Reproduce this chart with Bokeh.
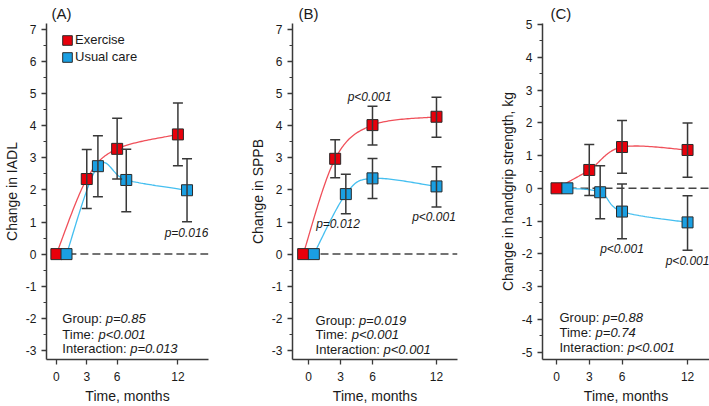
import numpy as np
from bokeh.plotting import figure
from bokeh.layouts import row
from bokeh.models import (ColumnDataSource, Whisker, TeeHead, Label, Legend, LegendItem,
                          FixedTicker, SingleIntervalTicker, Range1d, PrintfTickFormatter)
from bokeh.embed import file_html
from bokeh.resources import INLINE

# ---------------- data ----------------
months_ticks = [0, 3, 6, 12]
group_names = ["Exercise", "Usual care"]

# Panel A: Change in IADL
a_ex_t = [0, 3, 6, 12]
a_ex_y = [0, 2.34, 3.28, 3.73]
a_ex_lo = [0, 1.42, 2.34, 2.75]
a_ex_hi = [0, 3.26, 4.23, 4.71]
a_uc_t = [1, 4.1, 6.9, 12.9]
a_uc_y = [0, 2.74, 2.31, 1.99]
a_uc_lo = [0, 1.79, 1.32, 1.01]
a_uc_hi = [0, 3.69, 3.27, 2.97]

# Panel B: Change in SPPB
b_ex_t = [-0.5, 2.5, 6, 12]
b_ex_y = [0, 2.97, 4.02, 4.28]
b_ex_lo = [0, 2.38, 3.40, 3.64]
b_ex_hi = [0, 3.56, 4.61, 4.89]
b_uc_t = [0.5, 3.5, 6, 12]
b_uc_y = [0, 1.87, 2.36, 2.11]
b_uc_lo = [0, 1.26, 1.73, 1.47]
b_uc_hi = [0, 2.49, 2.98, 2.72]

# Panel C: Change in handgrip strength, kg
c_ex_t = [0, 3, 6, 12]
c_ex_y = [0, 0.56, 1.26, 1.17]
c_ex_lo = [0, -0.22, 0.46, 0.34]
c_ex_hi = [0, 1.34, 2.07, 1.99]
c_uc_t = [1, 4, 6, 12]
c_uc_y = [0, -0.12, -0.71, -1.04]
c_uc_lo = [0, -0.93, -1.54, -1.89]
c_uc_hi = [0, 0.69, 0.13, -0.23]

a_stats = [("Group: ", "p=0.85"), ("Time: ", "p<0.001"), ("Interaction: ", "p=0.013")]
b_stats = [("Group: ", "p=0.019"), ("Time: ", "p<0.001"), ("Interaction: ", "p<0.001")]
c_stats = [("Group: ", "p=0.88"), ("Time: ", "p=0.74"), ("Interaction: ", "p<0.001")]

a_notes = ["p=0.016"]
a_notes_x = [12.85]
a_notes_y = [0.67]
b_notes = ["p<0.001", "p=0.012", "p<0.001"]
b_notes_x = [5.72, 2.77, 11.77]
b_notes_y = [4.89, 0.94, 1.17]
c_notes = ["p<0.001", "p<0.001"]
c_notes_x = [6.0, 12.0]
c_notes_y = [-1.84, -2.21]

# ---------------- style ----------------
FONT = "Liberation Sans"
TXT = "#1a1a1a"
AX = "#3a3a3a"
RED_FILL = "#E8000B"
BLUE_FILL = "#1A9FE2"
RED_LINE = "#F0505A"
BLUE_LINE = "#45BFF0"
HEIGHT = 406

W = {' ': 278, ':': 278, 'G': 778, 'r': 333, 'o': 556, 'u': 556, 'p': 556, 'T': 611,
     'i': 222, 'm': 833, 'e': 556, 'I': 278, 'n': 556, 't': 278, 'a': 556, 'c': 500}


def text_width(s, size):
    return sum(W.get(ch, 556) for ch in s) * size / 1000.0


def catmull_rom(xs, ys, n=40):
    P = np.column_stack([xs, ys]).astype(float)
    segs = []
    t = np.linspace(0, 1, n)[:, None]
    h00 = 2 * t**3 - 3 * t**2 + 1
    h10 = t**3 - 2 * t**2 + t
    h01 = -2 * t**3 + 3 * t**2
    h11 = t**3 - t**2
    for i in range(len(P) - 1):
        p0 = P[i - 1] if i > 0 else P[i]
        p1, p2 = P[i], P[i + 1]
        p3 = P[i + 2] if i + 2 < len(P) else P[i + 1]
        m1 = (p2 - p0) / 2.0
        m2 = (p3 - p1) / 2.0
        segs.append(h00 * p1 + h10 * m1 + h01 * p2 + h11 * m2)
    c = np.vstack(segs)
    return c[:, 0], c[:, 1]


def panel(width, bl, br, xr, yr, ylabel, ex, uc, stats, stats_xy, notes, tag, tag_off,
          legend=False):
    p = figure(width=width, height=HEIGHT, x_range=Range1d(*xr), y_range=Range1d(*yr),
               output_backend="svg", toolbar_location=None,
               min_border_left=bl, min_border_right=br, min_border_top=23, min_border_bottom=46)
    p.outline_line_color = None
    p.grid.visible = False
    p.background_fill_color = "white"

    p.title.text = tag
    p.title.text_font = FONT
    p.title.text_font_size = "15px"
    p.title.text_font_style = "normal"
    p.title.text_color = TXT
    p.title.align = "left"
    p.title.vertical_align = "top"
    p.title.offset = tag_off
    p.title.standoff = 0

    # axes
    xa = p.xaxis[0]
    xa.ticker = FixedTicker(ticks=months_ticks)
    xa.axis_label = "Time, months"
    ya = p.yaxis[0]
    ya.ticker = SingleIntervalTicker(interval=1, num_minor_ticks=2)
    ya.formatter = PrintfTickFormatter(format="%d")
    ya.axis_label = ylabel
    for ax in (xa, ya):
        ax.axis_line_color = AX
        ax.axis_line_width = 1.5
        ax.major_tick_line_color = AX
        ax.major_tick_line_width = 1.3
        ax.major_tick_in = 0
        ax.major_tick_out = 5
        ax.major_label_text_font = FONT
        ax.major_label_text_font_size = "12px"
        ax.major_label_text_color = TXT
        ax.axis_label_text_font = FONT
        ax.axis_label_text_font_size = "14px"
        ax.axis_label_text_font_style = "normal"
        ax.axis_label_text_color = TXT
    xa.minor_tick_line_color = None
    xa.major_label_standoff = 7
    xa.axis_label_standoff = 4
    ya.minor_tick_line_color = AX
    ya.minor_tick_line_width = 1.2
    ya.minor_tick_in = 0
    ya.minor_tick_out = 3
    ya.major_label_standoff = 5
    ya.axis_label_standoff = 3

    # zero reference line
    p.line([0, xr[1]], [0, 0], line_color="#454545", line_width=1.5, line_dash="8 4")

    for (t, y, lo, hi), lcol in ((ex, RED_LINE), (uc, BLUE_LINE)):
        cx, cy = catmull_rom(t, y)
        p.line(cx, cy, line_color=lcol, line_width=1.3)
        src = ColumnDataSource(dict(t=t[1:], lo=lo[1:], hi=hi[1:]))
        wk = Whisker(source=src, base="t", lower="lo", upper="hi",
                     line_color="#383838", line_width=1.5,
                     upper_head=TeeHead(size=10, line_color="#383838", line_width=1.5),
                     lower_head=TeeHead(size=10, line_color="#383838", line_width=1.5))
        wk.level = "glyph"
        p.add_layout(wk)
    rends = []
    for (t, y, lo, hi), fill in ((ex, RED_FILL), (uc, BLUE_FILL)):
        rends.append(p.rect(x=t, y=y, width=11, height=11, width_units="screen",
                            height_units="screen", fill_color=fill,
                            line_color="#2a2a2a", line_width=1))

    if legend:
        lg = Legend(items=[LegendItem(label=group_names[i], renderers=[rends[i]]) for i in range(2)],
                    location=(15, 295), orientation="vertical",
                    glyph_width=12, glyph_height=12, label_height=14, spacing=2,
                    padding=0, margin=0, label_standoff=2,
                    label_text_font=FONT, label_text_font_size="13px",
                    label_text_color=TXT, border_line_color=None,
                    background_fill_alpha=0)
        p.add_layout(lg)

    # p-value notes
    nx, ny, nt = notes
    for x, y, s in zip(nx, ny, nt):
        p.add_layout(Label(x=x, y=y, text=s, text_font=FONT, text_font_size="12px",
                           text_font_style="italic", text_color=TXT,
                           text_align="center", text_baseline="middle"))

    # stats block
    sx, sys = stats_xy
    for (norm, ital), y in zip(stats, sys):
        p.add_layout(Label(x=sx, y=y, text=norm, text_font=FONT, text_font_size="13px",
                           text_color=TXT, text_baseline="middle"))
        p.add_layout(Label(x=sx, y=y, x_offset=text_width(norm, 13), text=ital,
                           text_font=FONT, text_font_size="13px", text_font_style="italic",
                           text_color=TXT, text_baseline="middle"))
    return p


pa = panel(246, 44, 38, (-0.976, 15.02), (-3.284, 7.186), "Change in IADL",
           (a_ex_t, a_ex_y, a_ex_lo, a_ex_hi), (a_uc_t, a_uc_y, a_uc_lo, a_uc_hi),
           a_stats, (0.585, [-2.01, -2.51, -2.95]), (a_notes_x, a_notes_y, a_notes),
           "(A)", 5, legend=True)
pb = panel(250, 46, 39, (-1.5, 13.97), (-3.284, 7.186), "Change in SPPB",
           (b_ex_t, b_ex_y, b_ex_lo, b_ex_hi), (b_uc_t, b_uc_y, b_uc_lo, b_uc_hi),
           b_stats, (0.66, [-2.06, -2.51, -2.97]), (b_notes_x, b_notes_y, b_notes),
           "(B)", 6)
pc = panel(213, 46, 0, (-1.282, 14.01), (-5.225, 5.03), "Change in handgrip strength, kg",
           (c_ex_t, c_ex_y, c_ex_lo, c_ex_hi), (c_uc_t, c_uc_y, c_uc_lo, c_uc_hi),
           c_stats, (0.275, [-3.95, -4.40, -4.85]), (c_notes_x, c_notes_y, c_notes),
           "(C)", 8)

layout = row(pa, pb, pc)
open("out.html", "w").write(file_html(layout, INLINE))
